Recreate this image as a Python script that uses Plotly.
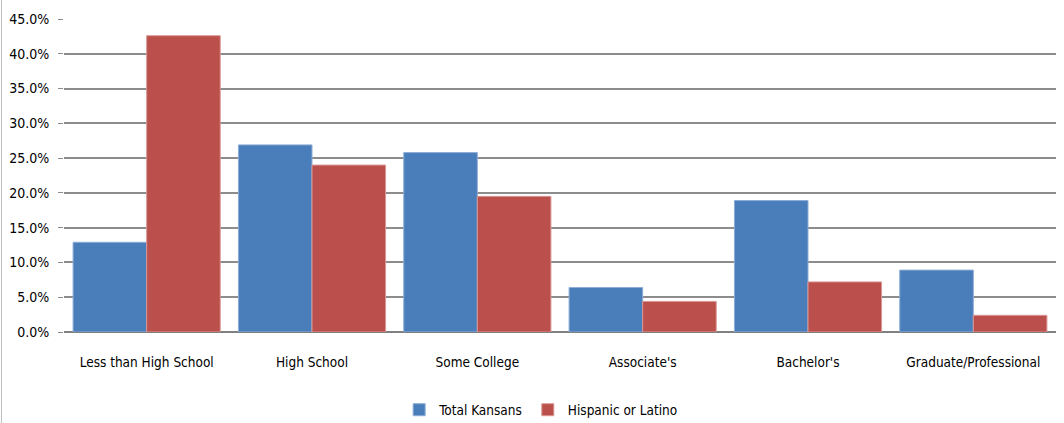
import plotly.graph_objects as go

categories = ["Less than High School", "High School", "Some College", "Associate's", "Bachelor's", "Graduate/Professional"]
total_kansans = [0.129, 0.269, 0.258, 0.064, 0.189, 0.089]
hispanic_latino = [0.426, 0.240, 0.195, 0.044, 0.072, 0.024]
series_names = ["Total Kansans", "Hispanic or Latino"]

FONT = "Liberation Sans Narrow, Arial Narrow, DejaVu Sans Condensed, sans-serif"

fig = go.Figure()
fig.add_trace(go.Bar(x=categories, y=total_kansans, name=series_names[0],
                     marker=dict(color="#4A7EBB", line=dict(color="#8EADD6", width=1))))
fig.add_trace(go.Bar(x=categories, y=hispanic_latino, name=series_names[1],
                     marker=dict(color="#BA4F4C", line=dict(color="#D99795", width=1))))

fig.update_layout(
    width=1064, height=423,
    margin=dict(l=64, r=8, t=19, b=91, autoexpand=False),
    paper_bgcolor="white", plot_bgcolor="white",
    barmode="group", bargap=0.11, bargroupgap=0,
    font=dict(family=FONT, size=13.5, color="#000000"),
    legend=dict(orientation="h", x=0.481, xanchor="center", y=-0.249, yanchor="middle",
                font=dict(size=13.5), itemwidth=30, traceorder="normal"),
    showlegend=True,
)
fig.update_yaxes(range=[0, 0.45], dtick=0.05, tickformat=".1%", automargin=False,
                 showgrid=True, gridcolor="#8C8C8C", gridwidth=2,
                 ticks="outside", ticklen=5, tickcolor="#8C8C8C", tickwidth=1,
                 ticklabelstandoff=6,
                 zeroline=True, zerolinecolor="#808080", zerolinewidth=2,
                 showline=False, tickfont=dict(size=14))
fig.update_xaxes(showgrid=False, showline=False, ticks="", ticklabelstandoff=20,
                 automargin=False, tickfont=dict(size=13.5))

fig.add_shape(type="line", xref="paper", yref="paper",
              x0=-62/984, x1=-62/984, y0=-91/313, y1=1 + 19/313,
              line=dict(color="#BFBFBF", width=1))

fig.write_html("out.html", config={"displayModeBar": False},
               post_script="document.body.style.margin='0';document.body.style.overflow='hidden';")
